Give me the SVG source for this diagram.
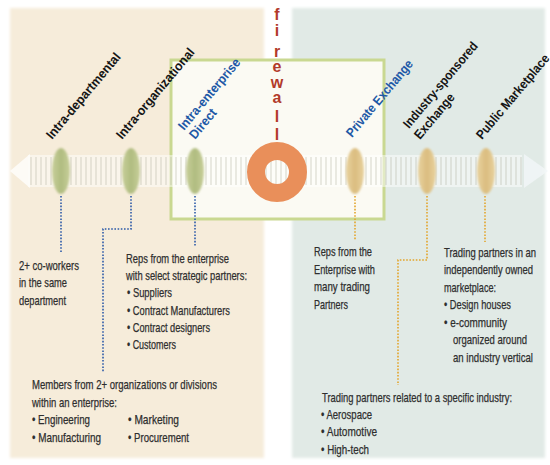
<svg xmlns="http://www.w3.org/2000/svg" width="550" height="465" viewBox="0 0 550 465">
  <defs>
    <style>
      .lbl { font-family: "Liberation Sans Narrow", "Liberation Sans", Arial, sans-serif; font-weight: bold; font-size: 13px; fill: #151515; }
      .blue { fill: #1d58a6; }
      .body { font-family: "Liberation Sans Narrow", "Liberation Sans", Arial, sans-serif; font-size: 13px; fill: #2e2e2e; stroke: #2e2e2e; stroke-width: 0.25; }
      .fw { font-family: "Liberation Sans", Arial, sans-serif; font-weight: bold; font-size: 16px; fill: #b23a2a; text-anchor: middle; }
      .dotB { fill: none; stroke: #2d5ba8; stroke-width: 1.6; stroke-dasharray: 1.6 1.6; }
      .dotO { fill: none; stroke: #e3a52c; stroke-width: 1.6; stroke-dasharray: 1.6 1.6; }
      .ovG { fill: url(#gG); filter: url(#soft); }
      .ovT { fill: url(#gT); filter: url(#soft); }
    </style>
    <filter id="soft" x="-50%" y="-50%" width="200%" height="200%">
      <feGaussianBlur stdDeviation="1"/>
    </filter>
    <filter id="soft2" x="-10%" y="-10%" width="120%" height="120%">
      <feGaussianBlur stdDeviation="1.5"/>
    </filter>
    <linearGradient id="gG" x1="0" y1="0" x2="1" y2="0">
      <stop offset="0" stop-color="#c8cf9a"/>
      <stop offset="0.5" stop-color="#b0bc80"/>
      <stop offset="1" stop-color="#c8cf9a"/>
    </linearGradient>
    <linearGradient id="gT" x1="0" y1="0" x2="1" y2="0">
      <stop offset="0" stop-color="#e8d29e"/>
      <stop offset="0.5" stop-color="#dbbd80"/>
      <stop offset="1" stop-color="#e8d29e"/>
    </linearGradient>
    <pattern id="hatch" width="5" height="30" patternUnits="userSpaceOnUse">
      <rect x="0" y="0" width="2" height="30" fill="#b0b0a0" opacity="0.3"/>
    </pattern>
  </defs>

  <rect x="0" y="0" width="550" height="465" fill="#ffffff"/>

  <!-- panels -->
  <g id="panels" filter="url(#soft2)">
    <rect x="10" y="8" width="254" height="450" fill="#f6ecda"/>
    <rect x="292" y="8" width="253" height="450" fill="#e1eae6"/>
  </g>

  <!-- inner box -->
  <g id="private-zone">
    <rect x="171" y="60" width="213" height="159" fill="#fbfaf3" stroke="#c9d891" stroke-width="3"/>
  </g>

  <!-- band -->
  <g id="band" opacity="0.85">
    <rect x="28" y="155" width="494" height="32" fill="#ffffff" opacity="0.55"/>
    <rect x="28" y="157" width="494" height="28" fill="url(#hatch)"/>
    <polygon points="10,171 30,154 30,188" fill="#ffffff" opacity="0.9"/>
    <polygon points="548,171 524,154 524,188" fill="#f2f7f8" opacity="0.95"/>
  </g>

  <!-- connectors -->
  <g id="connectors">
    <polyline class="dotB" points="61,196 61,253"/>
    <polyline class="dotB" points="131,196 131,229 103,229 103,372"/>
    <polyline class="dotB" points="195,196 195,247"/>
    <polyline class="dotO" points="355,196 355,240"/>
    <polyline class="dotO" points="427,196 427,260 398,260 398,385"/>
    <polyline class="dotO" points="485,196 485,242"/>
  </g>

  <!-- firewall -->
  <g id="firewall">
    <text class="fw"><tspan x="277" y="20">f</tspan><tspan x="277" y="36">i</tspan><tspan x="277" y="57">r</tspan><tspan x="277" y="72">e</tspan><tspan x="277" y="88">w</tspan><tspan x="277" y="103">a</tspan><tspan x="277" y="122">l</tspan><tspan x="277" y="140">l</tspan></text>
    <circle cx="277" cy="172" r="21" fill="none" stroke="#e98f5a" stroke-width="18"/>
  </g>

  <!-- nodes -->
  <g id="intra-departmental">
    <ellipse class="ovG" cx="61" cy="171" rx="9" ry="23"/>
    <text class="lbl" transform="translate(52,140) rotate(-50)" textLength="108" lengthAdjust="spacingAndGlyphs">Intra-departmental</text>
    <text class="body" x="19" y="269.5" textLength="60" lengthAdjust="spacingAndGlyphs">2+ co-workers</text>
    <text class="body" x="19" y="287" textLength="48" lengthAdjust="spacingAndGlyphs">in the same</text>
    <text class="body" x="19" y="304.5" textLength="47" lengthAdjust="spacingAndGlyphs">department</text>
  </g>

  <g id="intra-organizational">
    <ellipse class="ovG" cx="131" cy="171" rx="9" ry="23"/>
    <text class="lbl" transform="translate(122,140) rotate(-50)" textLength="114" lengthAdjust="spacingAndGlyphs">Intra-organizational</text>
    <text class="body" x="32" y="389" textLength="185" lengthAdjust="spacingAndGlyphs">Members from 2+ organizations or divisions</text>
    <text class="body" x="32" y="406.5" textLength="85" lengthAdjust="spacingAndGlyphs">within an enterprise:</text>
    <text class="body" x="32" y="424" textLength="58" lengthAdjust="spacingAndGlyphs">• Engineering</text>
    <text class="body" x="32" y="441.5" textLength="69" lengthAdjust="spacingAndGlyphs">• Manufacturing</text>
    <text class="body" x="128" y="424" textLength="51" lengthAdjust="spacingAndGlyphs">• Marketing</text>
    <text class="body" x="128" y="441.5" textLength="61" lengthAdjust="spacingAndGlyphs">• Procurement</text>
  </g>

  <g id="intra-enterprise-direct">
    <ellipse class="ovG" cx="195" cy="171" rx="9" ry="23"/>
    <text class="lbl blue" transform="translate(184,131) rotate(-50)" textLength="89" lengthAdjust="spacingAndGlyphs">Intra-enterprise</text>
    <text class="lbl blue" transform="translate(195,140) rotate(-50)" textLength="35" lengthAdjust="spacingAndGlyphs">Direct</text>
    <text class="body" x="126" y="262.5" textLength="103" lengthAdjust="spacingAndGlyphs">Reps from the enterprise</text>
    <text class="body" x="126" y="280" textLength="121" lengthAdjust="spacingAndGlyphs">with select strategic partners:</text>
    <text class="body" x="127" y="297" textLength="45" lengthAdjust="spacingAndGlyphs">• Suppliers</text>
    <text class="body" x="127" y="314.5" textLength="103" lengthAdjust="spacingAndGlyphs">• Contract Manufacturers</text>
    <text class="body" x="127" y="331.5" textLength="83" lengthAdjust="spacingAndGlyphs">• Contract designers</text>
    <text class="body" x="127" y="349" textLength="49" lengthAdjust="spacingAndGlyphs">• Customers</text>
  </g>

  <g id="private-exchange">
    <ellipse class="ovT" cx="355" cy="171" rx="9" ry="23"/>
    <text class="lbl blue" transform="translate(352,138) rotate(-50)" textLength="96" lengthAdjust="spacingAndGlyphs">Private Exchange</text>
    <text class="body" x="314" y="256" textLength="58" lengthAdjust="spacingAndGlyphs">Reps from the</text>
    <text class="body" x="314" y="273.5" textLength="61" lengthAdjust="spacingAndGlyphs">Enterprise with</text>
    <text class="body" x="314" y="291" textLength="56" lengthAdjust="spacingAndGlyphs">many trading</text>
    <text class="body" x="314" y="308.5" textLength="34" lengthAdjust="spacingAndGlyphs">Partners</text>
  </g>

  <g id="industry-sponsored-exchange">
    <ellipse class="ovT" cx="427" cy="171" rx="9" ry="23"/>
    <text class="lbl" transform="translate(409,129) rotate(-50)" textLength="108" lengthAdjust="spacingAndGlyphs">Industry-sponsored</text>
    <text class="lbl" transform="translate(420,140) rotate(-50)" textLength="55" lengthAdjust="spacingAndGlyphs">Exchange</text>
    <text class="body" x="322" y="401.5" textLength="190" lengthAdjust="spacingAndGlyphs">Trading partners related to a specific industry:</text>
    <text class="body" x="321" y="418.5" textLength="51" lengthAdjust="spacingAndGlyphs">• Aerospace</text>
    <text class="body" x="321" y="436" textLength="56" lengthAdjust="spacingAndGlyphs">• Automotive</text>
    <text class="body" x="321" y="453.5" textLength="48" lengthAdjust="spacingAndGlyphs">• High-tech</text>
  </g>

  <g id="public-marketplace">
    <ellipse class="ovT" cx="486" cy="171" rx="9" ry="23"/>
    <text class="lbl" transform="translate(482,140) rotate(-50)" textLength="106" lengthAdjust="spacingAndGlyphs">Public Marketplace</text>
    <text class="body" x="444" y="256.5" textLength="92" lengthAdjust="spacingAndGlyphs">Trading partners in an</text>
    <text class="body" x="444" y="274" textLength="89" lengthAdjust="spacingAndGlyphs">independently owned</text>
    <text class="body" x="444" y="291.5" textLength="52" lengthAdjust="spacingAndGlyphs">marketplace:</text>
    <text class="body" x="444" y="309" textLength="67" lengthAdjust="spacingAndGlyphs">• Design houses</text>
    <text class="body" x="444" y="326.5" textLength="63" lengthAdjust="spacingAndGlyphs">• e-community</text>
    <text class="body" x="453" y="344" textLength="74" lengthAdjust="spacingAndGlyphs">organized around</text>
    <text class="body" x="453" y="361.5" textLength="80" lengthAdjust="spacingAndGlyphs">an industry vertical</text>
  </g>
</svg>
